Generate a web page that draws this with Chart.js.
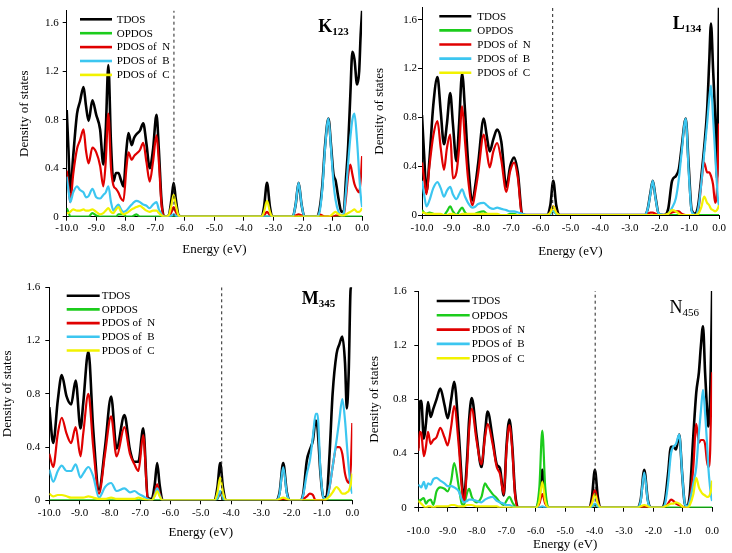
<!DOCTYPE html>
<html><head><meta charset="utf-8">
<script src="https://cdn.jsdelivr.net/npm/chart.js@4.4.0/dist/chart.umd.min.js"></script>
<style>
html,body{margin:0;padding:0;background:#fff;}
body{width:732px;height:553px;position:relative;overflow:hidden;}
canvas{position:absolute;display:block;}
</style></head><body>
<canvas id="cK" width="370" height="257" style="left:0px;top:0px"></canvas>
<canvas id="cL" width="362" height="259" style="left:370px;top:0px"></canvas>
<canvas id="cM" width="370" height="265" style="left:0px;top:275px"></canvas>
<canvas id="cN" width="365" height="277" style="left:367px;top:275px"></canvas>
<script>
// ---------- DATA ----------
const seriesNames = ['TDOS','OPDOS','PDOS of  N','PDOS of  B','PDOS of  C'];
const panelNames = ['K','L','M','N'];
const panelSubs = ['123','134','345','456'];
const dashedEnergy = [-6.37,-5.60,-4.31,-3.98];
const yMaxes = [1.7,1.7,1.6,1.6];

// Panel K123
const kEnergy = [-10.0,-9.94,-9.88,-9.78,-9.65,-9.55,-9.43,-9.35,-9.26,-9.13,
 -9.0,-8.87,-8.76,-8.68,-8.59,-8.5,-8.42,-8.33,-8.25,-8.16,
 -8.08,-7.98,-7.91,-7.8,-7.72,-7.64,-7.52,-7.41,-7.3,-7.19,
 -7.08,-6.96,-6.88,-6.79,-6.7,-6.55,-6.45,-6.38,-6.31,-6.21,
 -6.1,-3.4,-3.32,-3.22,-3.12,-3.04,-2.35,-2.25,-2.15,-2.05,
 -1.95,-1.55,-1.45,-1.35,-1.25,-1.14,-1.05,-0.97,-0.9,-0.8,
 -0.7,-0.62,-0.55,-0.47,-0.4,-0.33,-0.26,-0.17,-0.1,-0.05,
 0.0];
const kTDOS = [0.88,0.55,0.20,0.50,0.85,0.95,1.07,0.92,0.79,0.96,
 0.84,0.72,0.43,0.70,1.25,0.60,0.29,0.36,0.36,0.30,
 0.25,0.55,0.69,0.59,0.65,0.68,0.71,0.77,0.60,0.40,
 0.55,0.84,0.55,0.13,0,0.01,0.15,0.28,0.15,0.01,
 0,0,0.08,0.28,0.08,0,0,0.10,0.28,0.10,
 0,0,0.05,0.25,0.60,0.81,0.58,0.35,0.30,0.15,
 0.04,0.05,0.30,0.60,1.00,1.36,1.30,1.09,1.20,1.50,
 1.70];
const kOPDOS = [0.07,0.04,0,0,0,0,0,0,0,0.03,
 0.01,0,0,0,0,0,0,0,0.02,0.02,
 0.02,0,0,0,0.01,0.02,0,0,0,0,
 0,0,0,0,0,0,0,0,0,0,
 0,0,0,0,0,0,0,0,0,0,
 0,0,0,0,0,0,0,0,0,0,
 0,0,0,0,0,0,0,0,0,0,
 0];
const kPDOS_N = [0.38,0.25,0.12,0.35,0.56,0.63,0.72,0.55,0.44,0.57,
 0.53,0.42,0.25,0.45,0.85,0.40,0.26,0.23,0.20,0.15,
 0.13,0.40,0.53,0.47,0.50,0.52,0.55,0.61,0.45,0.29,
 0.45,0.67,0.45,0.10,0,0,0.04,0.08,0.04,0,
 0,0,0.01,0.04,0.01,0,0,0.01,0.02,0.01,
 0,0,0.02,0.01,0,0,0,0,0.01,0.01,
 0.01,0.02,0.15,0.35,0.43,0.35,0.27,0.22,0.20,0.30,
 0.50];
const kPDOS_B = [0.33,0.22,0.12,0.20,0.25,0.22,0.20,0.16,0.17,0.23,
 0.16,0.15,0.18,0.20,0.25,0.12,0.05,0.08,0.10,0.06,
 0.04,0.05,0.07,0.10,0.12,0.13,0.12,0.10,0.09,0.07,
 0.10,0.12,0.06,0.02,0,0,0.01,0.02,0.01,0,
 0,0,0,0,0,0,0,0.10,0.28,0.10,
 0,0,0.03,0.22,0.58,0.81,0.55,0.28,0.14,0.04,
 0.01,0.03,0.20,0.45,0.65,0.80,0.85,0.62,0.35,0.18,
 0.08];
const kPDOS_C = [0.03,0.03,0.04,0.06,0.05,0.05,0.06,0.05,0.05,0.06,
 0.04,0.02,0.03,0.05,0.07,0.04,0.03,0.06,0.08,0.04,
 0.02,0.03,0.04,0.06,0.07,0.08,0.09,0.07,0.05,0.04,
 0.05,0.05,0.03,0.01,0,0.01,0.10,0.18,0.10,0.01,
 0,0,0.04,0.13,0.04,0,0,0,0,0,
 0,0,0,0,0,0,0.01,0.03,0.04,0.02,
 0.01,0.01,0.02,0.03,0.04,0.05,0.06,0.04,0.04,0.05,
 0.07];

// Panel L134
const lEnergy = [-10.0,-9.93,-9.85,-9.75,-9.62,-9.48,-9.37,-9.26,-9.16,-9.05,
 -8.96,-8.84,-8.75,-8.65,-8.55,-8.45,-8.3,-8.2,-8.11,-7.92,
 -7.82,-7.72,-7.6,-7.47,-7.33,-7.16,-7.03,-6.9,-6.77,-6.63,
 -6.5,-5.8,-5.68,-5.58,-5.48,-5.36,-2.5,-2.4,-2.31,-2.23,
 -2.14,-2.03,-1.85,-1.71,-1.58,-1.45,-1.35,-1.26,-1.12,-1.02,
 -0.92,-0.8,-0.7,-0.6,-0.5,-0.4,-0.33,-0.27,-0.2,-0.13,
 -0.07,-0.03,0.0];
const lTDOS = [0.82,0.50,0.19,0.45,0.90,1.13,0.85,0.58,0.75,1.00,
 0.75,0.44,0.75,1.16,0.85,0.44,0.12,0.25,0.42,0.79,
 0.65,0.52,0.62,0.70,0.60,0.23,0.40,0.47,0.34,0.01,
 0,0,0.08,0.28,0.08,0,0,0.05,0.18,0.28,
 0.15,0.01,0,0.05,0.28,0.32,0.38,0.55,0.79,0.40,
 0.04,0.01,0.08,0.30,0.55,0.86,1.25,1.57,1.20,0.80,
 0.30,1.00,1.70];
const lOPDOS = [0.04,0.02,0.01,0.02,0.01,0,0,0,0.03,0.07,
 0.03,0,0.03,0.06,0.02,0,0,0.01,0.02,0.03,
 0.01,0,0,0,0,0,0.01,0.01,0,0,
 0,0,0.01,0.03,0.01,0,0,0,0,0,
 0,0,0,0,0,0,0,0,0,0,
 0,0,0,0,0,0,0,0,0,0,
 0,0,0];
const lPDOS_N = [0.43,0.30,0.17,0.40,0.65,0.77,0.55,0.37,0.55,0.66,
 0.30,0.35,0.55,0.89,0.60,0.30,0.08,0.20,0.34,0.66,
 0.52,0.39,0.52,0.59,0.45,0.19,0.36,0.43,0.30,0,
 0,0,0.02,0.07,0.02,0,0,0.01,0.02,0.02,
 0.01,0,0,0.01,0.02,0.03,0.03,0.01,0,0,
 0,0,0.03,0.25,0.43,0.35,0.35,0.32,0.25,0.10,
 0.20,0.50,0.75];
const lPDOS_B = [0.28,0.17,0.07,0.12,0.22,0.27,0.22,0.15,0.20,0.23,
 0.17,0.13,0.17,0.21,0.15,0.10,0.06,0.07,0.09,0.10,
 0.08,0.06,0.05,0.06,0.05,0.04,0.03,0.03,0.02,0.01,
 0,0,0.01,0.03,0.01,0,0,0.05,0.17,0.28,
 0.14,0.01,0,0.01,0.06,0.14,0.30,0.51,0.79,0.35,
 0.03,0,0.05,0.25,0.50,0.75,0.95,1.06,0.80,0.50,
 0.25,0.12,0.08];
const lPDOS_C = [0.02,0.02,0.01,0.01,0.01,0.01,0.01,0,0,0.01,
 0.01,0,0,0.01,0.01,0.01,0.01,0.01,0.01,0.01,
 0.01,0.01,0.01,0.01,0,0,0,0,0,0,
 0,0,0.02,0.07,0.02,0,0,0,0,0,
 0,0,0,0.01,0.04,0.03,0.01,0,0,0,
 0,0,0.01,0.06,0.15,0.10,0.08,0.05,0.04,0.03,
 0.04,0.06,0.08];

// Panel M345
const mEnergy = [-10.0,-9.87,-9.72,-9.59,-9.43,-9.28,-9.13,-8.97,-8.88,-8.71,
 -8.55,-8.36,-8.16,-7.96,-7.78,-7.52,-7.34,-7.19,-7.06,-6.9,
 -6.75,-6.62,-6.52,-6.44,-6.36,-6.26,-4.55,-4.45,-4.36,-4.27,
 -4.17,-2.5,-2.4,-2.28,-2.16,-2.05,-1.7,-1.62,-1.5,-1.4,
 -1.3,-1.21,-1.15,-1.05,-0.95,-0.85,-0.75,-0.65,-0.52,-0.43,
 -0.33,-0.24,-0.18,-0.12,-0.05,0.0];
const mTDOS = [0.70,0.43,0.75,0.94,0.78,0.72,0.90,0.54,0.73,1.12,
 0.53,0.08,0.40,0.78,0.39,0.64,0.38,0.29,0.29,0.54,
 0.02,0.01,0.12,0.28,0.12,0,0,0.10,0.28,0.10,
 0,0,0.06,0.28,0.06,0,0,0.05,0.30,0.38,
 0.45,0.60,0.55,0.20,0.02,0.03,0.35,0.80,1.10,1.17,
 1.23,1.03,0.69,0.95,1.60,1.60];
const mOPDOS = [0,0,0,0,0,0,0,0,0,0,
 0,0,0,0,0,0,0,0,0,0,
 0,0,0,0,0,0,0,0.01,0.05,0.01,
 0,0,0,0,0,0,0,0,0,0,
 0,0,0,0,0,0,0,0,0,0,
 0,0,0,0,0,0];
const mPDOS_N = [0.35,0.25,0.50,0.62,0.50,0.43,0.55,0.33,0.50,0.80,
 0.40,0.05,0.35,0.63,0.33,0.55,0.35,0.27,0.22,0.49,
 0.01,0,0.05,0.12,0.05,0,0,0.02,0.05,0.02,
 0,0,0,0.01,0,0,0,0.01,0.03,0.05,
 0.04,0,0,0,0,0.01,0.10,0.25,0.40,0.40,
 0.35,0.20,0.15,0.13,0.25,0.58];
const mPDOS_B = [0.23,0.14,0.22,0.26,0.22,0.22,0.27,0.17,0.20,0.25,
 0.18,0.02,0.10,0.13,0.07,0.09,0.06,0.07,0.05,0.03,
 0.01,0,0.04,0.09,0.04,0,0,0.02,0.07,0.02,
 0,0,0.05,0.25,0.05,0,0,0.04,0.20,0.30,
 0.48,0.65,0.65,0.22,0.02,0.01,0.10,0.25,0.45,0.60,
 0.76,0.60,0.42,0.25,0.10,0.05];
const mPDOS_C = [0.05,0.03,0.04,0.04,0.03,0.02,0.02,0.02,0.02,0.03,
 0.02,0.01,0.01,0.02,0.01,0.01,0.01,0.01,0.02,0.01,
 0,0,0.03,0.07,0.03,0,0,0.06,0.17,0.06,
 0,0,0.01,0.02,0.01,0,0,0,0,0,
 0,0,0,0,0,0.01,0.03,0.06,0.10,0.08,
 0.05,0.05,0.06,0.07,0.12,0.20];

// Panel N456
const nEnergy = [-10.0,-9.95,-9.9,-9.81,-9.74,-9.67,-9.58,-9.49,-9.38,-9.25,
 -9.11,-9.0,-8.88,-8.78,-8.62,-8.52,-8.45,-8.34,-8.27,-8.18,
 -8.02,-7.85,-7.73,-7.64,-7.47,-7.33,-7.22,-7.09,-7.0,-6.9,
 -6.8,-6.71,-6.6,-6.0,-5.88,-5.78,-5.68,-5.56,-4.2,-4.09,
 -3.99,-3.89,-3.78,-2.55,-2.43,-2.31,-2.19,-2.07,-1.7,-1.6,
 -1.5,-1.4,-1.32,-1.23,-1.12,-1.02,-0.93,-0.85,-0.76,-0.64,
 -0.54,-0.45,-0.38,-0.31,-0.24,-0.18,-0.13,-0.07,-0.03,0.0];
const nTDOS = [0.44,0.78,0.79,0.51,0.62,0.78,0.67,0.73,0.80,0.88,
 0.76,0.66,0.80,0.93,0.54,0.20,0.07,0.36,0.65,0.81,
 0.54,0.30,0.55,0.71,0.51,0.32,0.29,0.09,0.45,0.65,
 0.45,0.12,0,0,0.08,0.28,0.08,0,0,0.08,
 0.28,0.08,0,0,0.06,0.28,0.06,0,0,0.06,
 0.25,0.45,0.45,0.43,0.54,0.25,0.03,0.01,0.10,0.53,
 0.85,1.00,1.20,1.34,1.00,0.75,0.60,0.80,1.20,1.60];
const nOPDOS = [0.06,0.05,0.06,0.07,0.03,0.05,0.06,0.02,0.12,0.15,
 0.14,0.12,0.20,0.33,0.15,0.03,0.02,0.11,0.14,0.08,
 0.04,0.08,0.18,0.15,0.10,0.07,0.04,0.02,0.05,0.08,
 0.04,0.01,0,0,0.15,0.57,0.15,0,0,0.01,
 0.02,0.01,0,0,0,0,0,0,0,0,
 0,0,0,0,0,0,0,0,0,0,
 0,0,0,0,0,0,0,0,0,0];
const nPDOS_N = [0.42,0.56,0.55,0.38,0.45,0.56,0.47,0.50,0.52,0.59,
 0.52,0.46,0.60,0.75,0.45,0.15,0.04,0.30,0.58,0.73,
 0.50,0.32,0.52,0.62,0.47,0.30,0.25,0.10,0.42,0.61,
 0.42,0.10,0,0,0.03,0.10,0.03,0,0,0.04,
 0.13,0.04,0,0,0,0.01,0,0,0,0.01,
 0.03,0.06,0.05,0.03,0.02,0.01,0,0,0.05,0.30,
 0.62,0.48,0.50,0.50,0.47,0.35,0.30,0.40,0.80,1.00];
const nPDOS_B = [0.17,0.16,0.15,0.19,0.14,0.18,0.17,0.21,0.22,0.20,
 0.18,0.16,0.16,0.15,0.12,0.06,0.04,0.05,0.06,0.06,
 0.05,0.04,0.06,0.07,0.08,0.05,0.04,0.03,0.02,0.02,
 0.01,0,0,0,0,0.01,0,0,0,0.01,
 0.03,0.01,0,0,0.05,0.26,0.05,0,0,0.03,
 0.18,0.40,0.45,0.47,0.54,0.25,0.03,0.01,0.05,0.18,
 0.30,0.55,0.72,0.87,0.70,0.50,0.30,0.15,0.08,0.05];
const nPDOS_C = [0.05,0.04,0.03,0.01,0,0.01,0.01,0,0.01,0.01,
 0.01,0.01,0.02,0.02,0.01,0.01,0.01,0.02,0.02,0.02,
 0.01,0.01,0.01,0.01,0.01,0.01,0,0,0,0,
 0,0,0,0,0.05,0.19,0.05,0,0,0.03,
 0.10,0.03,0,0,0.01,0.02,0.01,0,0,0.01,
 0.02,0.03,0.03,0.04,0.03,0.01,0,0,0.02,0.10,
 0.22,0.15,0.12,0.10,0.09,0.08,0.08,0.10,0.14,0.20];

// ---------- STYLE / LAYOUT ----------
const FONT = '"Liberation Serif", "Times New Roman", serif';
const seriesColors = ['#000000','#1ccc1c','#e00000','#3cc6f0','#f2f200'];
const seriesWidths = [2.6,2.2,2.2,2.2,2.2];

const panels = [
 {id:'cK', energy:kEnergy, series:[kTDOS,kOPDOS,kPDOS_N,kPDOS_B,kPDOS_C],
  pad:{left:17.2,top:4,right:6,bottom:0}, yW:49.5, xH:40.3, xTickPad:1, yTickPad:4,
  lg:{x:13.3,len:32,tx:50,y0:8.7,dy:13.9}, lab:{dx:-44,dy:21}, bold:true},
 {id:'cL', energy:lEnergy, series:[lTDOS,lOPDOS,lPDOS_N,lPDOS_B,lPDOS_C],
  pad:{left:2.2,top:4,right:13,bottom:0}, yW:49.8, xH:44, xTickPad:2.7, yTickPad:1,
  lg:{x:17.3,len:32,tx:55.3,y0:8.7,dy:14.1}, lab:{dx:-46.3,dy:21}, bold:true},
 {id:'cM', energy:mEnergy, series:[mTDOS,mOPDOS,mPDOS_N,mPDOS_B,mPDOS_C],
  pad:{left:0,top:12.3,right:17.7,bottom:0}, yW:49.3, xH:39.7, xTickPad:2.4, yTickPad:5,
  lg:{x:17.4,len:33,tx:52.4,y0:8.4,dy:13.7}, lab:{dx:-50.6,dy:17}, bold:true},
 {id:'cN', energy:nEnergy, series:[nTDOS,nOPDOS,nPDOS_N,nPDOS_B,nPDOS_C],
  pad:{left:0,top:16,right:7.7,bottom:0}, yW:51.3, xH:44.3, xTickPad:13, yTickPad:7.5,
  lg:{x:18.4,len:33,tx:53.4,y0:10,dy:14.3}, lab:{dx:-42.6,dy:22.3}, bold:false}
];

const overlay = {
  id:'overlay',
  afterDraw(chart, args, o) {
    const ctx = chart.ctx, a = chart.chartArea;
    ctx.save();
    seriesNames.forEach((n, i) => {
      const y = a.top + o.lg.y0 + i * o.lg.dy;
      ctx.strokeStyle = seriesColors[i];
      ctx.lineWidth = 2.6;
      ctx.beginPath();
      ctx.moveTo(a.left + o.lg.x, y);
      ctx.lineTo(a.left + o.lg.x + o.lg.len, y);
      ctx.stroke();
      ctx.fillStyle = '#000';
      ctx.font = '11px ' + FONT;
      ctx.textBaseline = 'middle';
      ctx.textAlign = 'left';
      ctx.fillText(n, a.left + o.lg.tx, y + 0.5);
    });
    const w = o.bold ? 'bold ' : '';
    const x0 = a.right + o.lab.dx, y0 = a.top + o.lab.dy;
    ctx.textBaseline = 'alphabetic';
    ctx.font = w + '18px ' + FONT;
    ctx.fillText(o.name, x0, y0);
    const mw = ctx.measureText(o.name).width;
    ctx.font = w + '11px ' + FONT;
    ctx.fillText(o.sub, x0 + mw, y0 + 3);
    ctx.restore();
  }
};

panels.forEach((P, i) => {
  const ymax = yMaxes[i];
  const ds = P.series.map((vals, k) => ({
    label: seriesNames[k],
    data: P.energy.map((e, j) => ({x: e, y: vals[j]})),
    borderColor: seriesColors[k],
    borderWidth: seriesWidths[k],
    pointRadius: 0,
    fill: false,
    cubicInterpolationMode: 'monotone',
    order: 6 - k
  }));
  ds.push({
    label: 'gap',
    data: [{x: dashedEnergy[i], y: 0}, {x: dashedEnergy[i], y: ymax}],
    borderColor: '#222', borderWidth: 1, borderDash: [3, 3],
    pointRadius: 0, fill: false, order: 0
  });
  const tickFont = {family: FONT, size: 11};
  const titleFont = {family: FONT, size: 13};
  new Chart(document.getElementById(P.id), {
    type: 'line',
    data: {datasets: ds},
    plugins: [overlay],
    options: {
      responsive: false, animation: false, events: [],
      layout: {padding: P.pad, autoPadding: false},
      plugins: {
        legend: {display: false}, tooltip: {enabled: false},
        overlay: {lg: P.lg, lab: P.lab, bold: P.bold, name: panelNames[i], sub: panelSubs[i]}
      },
      scales: {
        x: {
          type: 'linear', min: -10, max: 0,
          ticks: {stepSize: 1, autoSkip: false, maxRotation: 0, color: '#000', font: tickFont,
                  padding: P.xTickPad, callback: v => v.toFixed(1)},
          grid: {drawOnChartArea: false, drawTicks: true, tickLength: 4, color: '#000'},
          border: {display: true, color: '#000', width: 1},
          title: {display: true, text: 'Energy (eV)', color: '#000', font: titleFont, padding: 0},
          afterFit: s => { s.height = P.xH; }
        },
        y: {
          min: 0, max: ymax,
          ticks: {stepSize: 0.4, includeBounds: false, color: '#000', font: tickFont,
                  padding: P.yTickPad, callback: v => v === 0 ? '0' : v.toFixed(1)},
          grid: {drawOnChartArea: false, drawTicks: true, tickLength: 4, color: '#000'},
          border: {display: true, color: '#000', width: 1},
          title: {display: true, text: 'Density of states', color: '#000', font: titleFont, padding: 0},
          afterFit: s => { s.width = P.yW; }
        }
      }
    }
  });
});
</script>
</body></html>
